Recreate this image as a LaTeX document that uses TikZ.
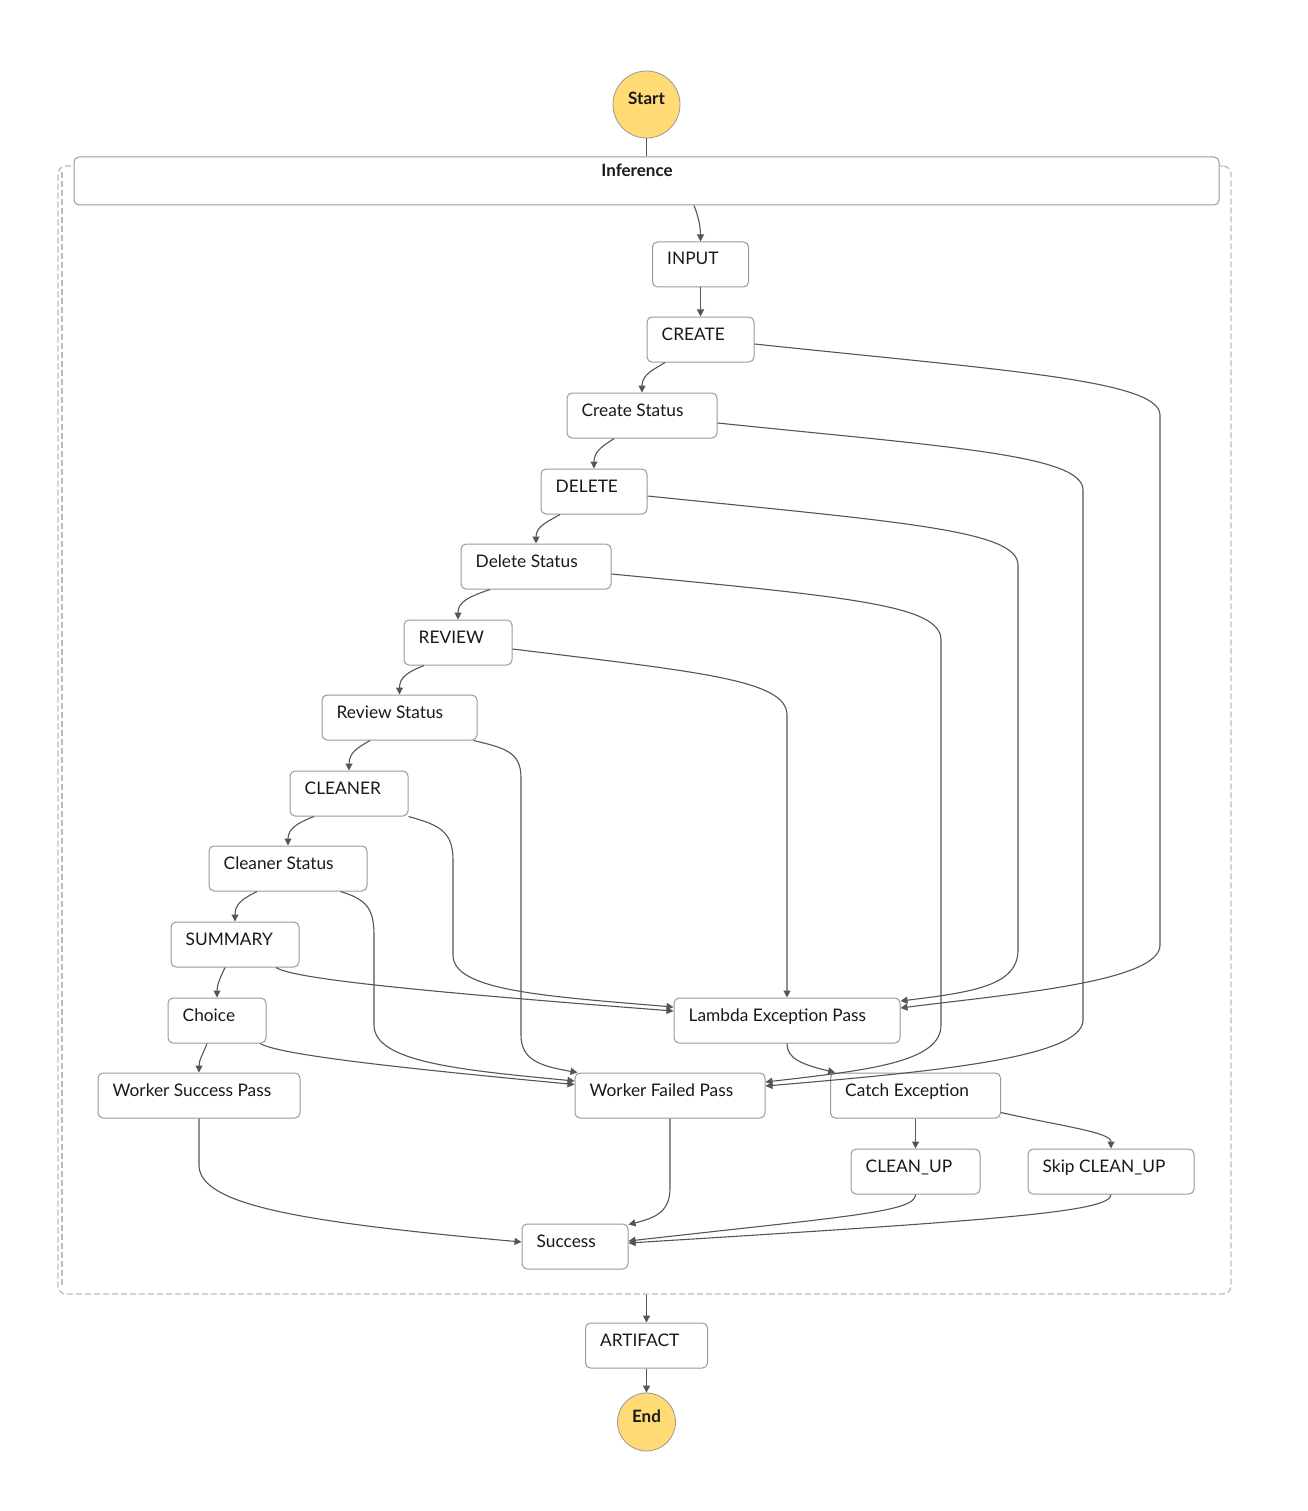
\documentclass[tikz,border=0pt]{standalone}
\usepackage{fontspec}
\setmainfont{Lato}
\usetikzlibrary{arrows.meta,calc}
\definecolor{lnc}{HTML}{555555}
\definecolor{boxc}{HTML}{999999}
\definecolor{txc}{HTML}{16191F}
\definecolor{ylw}{RGB}{255,218,117}
\definecolor{dashc}{HTML}{BBBBBB}
\begin{document}
\begin{tikzpicture}[x=1pt,y=-1pt,
  font=\fontsize{17.3}{20}\selectfont, text=txc,
  box/.style={draw=boxc, line width=1pt, rounded corners=5pt, minimum height=45pt, inner sep=0pt, fill=white},
  lab/.style={anchor=base west, xshift=15pt, yshift=-23.5pt, inner sep=0pt, text=txc},
  term/.style={circle, draw=boxc, fill=ylw, line width=0.8pt, inner sep=0pt, text height=12pt, text depth=12pt, font=\fontsize{17}{20}\selectfont\bfseries},
  ln/.style={draw=lnc, line width=1.1pt},
  arr/.style={draw=lnc, line width=1.1pt, -{Triangle[length=7pt,width=7pt]}},
  grpline/.style={draw=dashc, line width=1.3pt, dash pattern=on 6pt off 3pt}
]
\useasboundingbox (0,0) rectangle (1307,1511);

% group container
\node[grpline, rounded corners=8pt, minimum width=1173pt, minimum height=1128pt, inner sep=0pt] (grp) at (644.5,730) {};
\draw[grpline] (62,172) -- (62,1286);

\node[term, minimum size=67pt] (start) at (646.5,104.5) {Start};
\node[box, minimum width=1145pt, minimum height=48pt,
  label={[anchor=base, xshift=-9.5pt, yshift=-20pt, inner sep=0pt, font=\fontsize{17}{20}\selectfont\bfseries]north:Inference}] (inf) at (646.5,181) {};

\node[box, minimum width=96pt, label={[lab]north west:INPUT}] (input) at (700.5,264.5) {};
\node[box, minimum width=107pt, label={[lab]north west:CREATE}] (create) at (700.5,339.5) {};
\node[box, minimum width=150pt, label={[lab]north west:Create Status}] (cstat) at (642,415.5) {};
\node[box, minimum width=106pt, label={[lab]north west:DELETE}] (delete) at (594,491.5) {};
\node[box, minimum width=150pt, label={[lab]north west:Delete Status}] (dstat) at (536,566.5) {};
\node[box, minimum width=108pt, label={[lab]north west:REVIEW}] (review) at (458,642.5) {};
\node[box, minimum width=155pt, label={[lab]north west:Review Status}] (rstat) at (399.5,717.5) {};
\node[box, minimum width=118pt, label={[lab]north west:CLEANER}] (cleaner) at (349,793.5) {};
\node[box, minimum width=158pt, label={[lab]north west:Cleaner Status}] (clstat) at (288,868.5) {};
\node[box, minimum width=128pt, label={[lab]north west:SUMMARY}] (summary) at (235,944.5) {};
\node[box, minimum width=98pt, label={[lab]north west:Choice}] (choice) at (217,1020.5) {};
\node[box, minimum width=202pt, label={[lab]north west:Worker Success Pass}] (wsp) at (199,1095.5) {};
\node[box, minimum width=226pt, label={[lab]north west:Lambda Exception Pass}] (lam) at (787,1020.5) {};
\node[box, minimum width=190pt, label={[lab]north west:Worker Failed Pass}] (wfp) at (670,1095.5) {};
\node[box, minimum width=170pt, label={[lab]north west:Catch Exception}] (catch) at (915.5,1095.5) {};
\node[box, minimum width=129pt, label={[lab]north west:CLEAN\_UP}] (cleanup) at (915.5,1171.5) {};
\node[box, minimum width=166pt, label={[lab]north west:Skip CLEAN\_UP}] (skip) at (1111,1171.5) {};
\node[box, minimum width=106pt, label={[lab]north west:Success}] (success) at (575,1246.5) {};
\node[box, minimum width=122pt, label={[lab]north west:ARTIFACT}] (artifact) at (646.5,1345.5) {};
\node[term, minimum size=58pt] (end) at (646.5,1422) {End};

% main flow
\draw[ln] (start.south) -- (start.south |- inf.north);
\draw[arr] ($(inf.south)+(47.5,0)$) .. controls (699,218) and (700.5,228) .. (input.north);
\draw[arr] (input.south) -- (input.south |- create.north);
\draw[arr] ($(create.south)+(-35.5,0)$) .. controls (655,369) and (642,374) .. (cstat.north);
\draw[arr] ($(cstat.south)+(-28,0)$) .. controls (605,445) and (594,450) .. (delete.north);
\draw[arr] ($(delete.south)+(-34,0)$) .. controls (549,521) and (536,526) .. (dstat.north);
\draw[arr] ($(dstat.south)+(-46,0)$) .. controls (468,597) and (458,602) .. (review.north);
\draw[arr] ($(review.south)+(-34,0)$) .. controls (408,672) and (399.5,677) .. (rstat.north);
\draw[arr] ($(rstat.south)+(-29.5,0)$) .. controls (357,748) and (349,753) .. (cleaner.north);
\draw[arr] ($(cleaner.south)+(-35,0)$) .. controls (297,823) and (288,829) .. (clstat.north);
\draw[arr] ($(clstat.south)+(-31,0)$) .. controls (242,899) and (235,904) .. (summary.north);
\draw[arr] ($(summary.south)+(-10,0)$) .. controls (220,978) and (217,985) .. (choice.north);
\draw[arr] ($(choice.south)+(-10,0)$) .. controls (203,1054) and (199,1060) .. (wsp.north);

% error flows
\draw[arr] ($(create.east)+(0,4.5)$) .. controls (1000,370) and (1160,380) .. (1160,415) -- (1160,945) .. controls (1160,982) and (1010,994) .. ($(lam.east)+(0,-12.5)$);
\draw[arr] ($(cstat.east)+(0,7.5)$) .. controls (950,447) and (1083,455) .. (1083,490) -- (1083,1020) .. controls (1083,1058) and (930,1072) .. ($(wfp.east)+(0,-9.5)$);
\draw[arr] ($(delete.east)+(0,4.5)$) .. controls (900,522) and (1018,530) .. (1018,565) -- (1018,950) .. controls (1018,985) and (975,992) .. ($(lam.east)+(0,-19.5)$);
\draw[arr] ($(dstat.east)+(0,7.5)$) .. controls (850,597) and (941,605) .. (941,640) -- (941,1025) .. controls (941,1062) and (870,1070) .. ($(wfp.east)+(0,-13.5)$);
\draw[arr] ($(review.east)+(0,6.5)$) .. controls (700,672) and (787,680) .. (787,715) -- (lam.north);
\draw[arr] ($(rstat.south east)+(-4,0)$) .. controls (505,748) and (521,752) .. (521,778) -- (521,1035) .. controls (521,1060) and (540,1066) .. ($(wfp.north west)+(3,0)$);
\draw[arr] (cleaner.south east) .. controls (440,825) and (453,832) .. (453,860) -- (453,955) .. controls (453,990) and (540,996) .. ($(lam.west)+(0,-13.5)$);
\draw[arr] ($(clstat.south east)+(-27,0)$) .. controls (365,899) and (374,907) .. (374,935) -- (374,1025) .. controls (374,1062) and (460,1070) .. ($(wfp.west)+(0,-14.5)$);
\draw[arr] ($(summary.south)+(41,0)$) .. controls (292,978) and (400,990) .. ($(lam.west)+(0,-9.5)$);
\draw[arr] ($(choice.south)+(43,0)$) .. controls (280,1055) and (400,1068) .. ($(wfp.west)+(0,-11)$);

% tail
\draw[arr] (lam.south) .. controls (787,1058) and (800,1064) .. ($(catch.north west)+(5,0)$);
\draw[arr] (catch.south) -- (catch.south |- cleanup.north);
\draw[arr] ($(catch.east)+(0,17)$) .. controls (1060,1126) and (1111,1132) .. (skip.north);
\draw[arr] (cleanup.south) .. controls (915.5,1212) and (850,1216) .. ($(success.east)+(0,-5.5)$);
\draw[arr] (skip.south) .. controls (1111,1212) and (1000,1220) .. ($(success.east)+(0,-3.5)$);
\draw[arr] (wsp.south) -- (199,1165) .. controls (199,1205) and (300,1222) .. ($(success.west)+(0,-4.5)$);
\draw[arr] (wfp.south) -- (670,1188) .. controls (670,1212) and (655,1218) .. ($(success.north east)+(0,1)$);
\draw[arr] (grp.south -| artifact.north) -- (artifact.north);
\draw[arr] (artifact.south) -- (end.north);
\end{tikzpicture}
\end{document}
